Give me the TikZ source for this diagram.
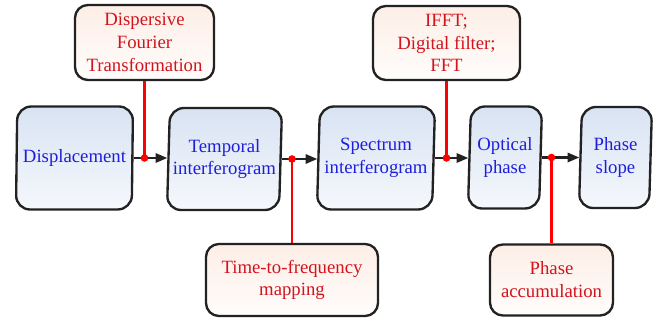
\documentclass[tikz,border=0pt]{standalone}
\usepackage{fontspec}
\setmainfont{Liberation Serif}
\newfontfamily\boxfont{LiberationSerif-Regular.ttf}
\usetikzlibrary{arrows.meta,calc,shapes.geometric}
\definecolor{ink}{HTML}{1E1EDC}
\definecolor{redtext}{HTML}{D2141E}
\definecolor{tapline}{HTML}{FF0000}
\definecolor{bluetop}{HTML}{D8E3F3}
\definecolor{bluebot}{HTML}{F5F8FC}
\definecolor{peachtop}{HTML}{FDEEE6}
\definecolor{peachbot}{HTML}{FFFDFC}
\definecolor{edge}{HTML}{222222}
\tikzset{
  stage/.style={trapezium, trapezium left angle=85.8, trapezium right angle=94.2,
    trapezium stretches body, rounded corners=12pt, draw=edge, line width=2pt,
    top color=bluetop, bottom color=bluebot, text=ink, align=center,
    font=\boxfont\fontsize{16}{19.5}\selectfont, inner sep=0pt},
  op/.style={rectangle, rounded corners=11pt, draw=edge, line width=2pt,
    top color=peachtop, bottom color=peachbot, text=redtext, align=center,
    font=\boxfont\fontsize{16}{19.5}\selectfont, inner sep=0pt},
  flow/.style={-{Triangle[length=10pt,width=8pt]}, line width=1.8pt, draw=edge},
  tap/.style={line width=1.9pt, draw=tapline},
  dot/.style={circle, fill=tapline, inner sep=0pt, minimum size=6.5pt}
}

\begin{document}
\begin{tikzpicture}[x=0.03cm,y=-0.03cm]
  \useasboundingbox (0,0) rectangle (662,320);
  % main chain
  \node[stage, minimum width=3.51cm, minimum height=3.09cm] (disp)  at (74.5,158) {Displacement};
  \node[stage, minimum width=3.45cm, minimum height=3.06cm] (temp)  at (224.5,159) {Temporal\\interferogram};
  \node[stage, minimum width=3.54cm, minimum height=3.09cm] (spec)  at (376,158) {Spectrum\\interferogram};
  \node[stage, minimum width=2.22cm, minimum height=3.06cm] (opt)   at (505,157.5) {Optical\\phase};
  \node[stage, minimum width=2.19cm, minimum height=3.03cm] (slope) at (615.5,157.5) {Phase\\slope};
  % operations
  \node[op, minimum width=4.17cm, minimum height=2.25cm] (dft)  at (144.5,42.5) {Dispersive\\Fourier\\Transformation};
  \node[op, minimum width=5.16cm, minimum height=2.16cm] (ttf)  at (292,280) {Time-to-frequency\\mapping};
  \node[op, minimum width=4.41cm, minimum height=2.22cm] (ifft) at (446.5,43) {IFFT;\\Digital filter;\\FFT};
  \node[op, minimum width=3.69cm, minimum height=2.13cm] (acc)  at (551.5,280) {Phase\\accumulation};

  \draw[flow] (disp.east) -- (disp.east -| temp.west);
  \draw[flow] (temp.east) -- (temp.east -| spec.west);
  \draw[flow] (spec.east) -- (spec.east -| opt.west);
  \draw[flow] (opt.east) -- (opt.east -| slope.west);

  \draw[tap] (dft.south) -- (dft.south |- disp.east) node[dot] (j1) {};
  \draw[tap] (ttf.north) -- (ttf.north |- temp.east) node[dot] (j2) {};
  \draw[tap] (ifft.south) -- (ifft.south |- spec.east) node[dot] (j3) {};
  \draw[tap] (acc.north) -- (acc.north |- opt.east) node[dot] (j4) {};
\end{tikzpicture}
\end{document}
